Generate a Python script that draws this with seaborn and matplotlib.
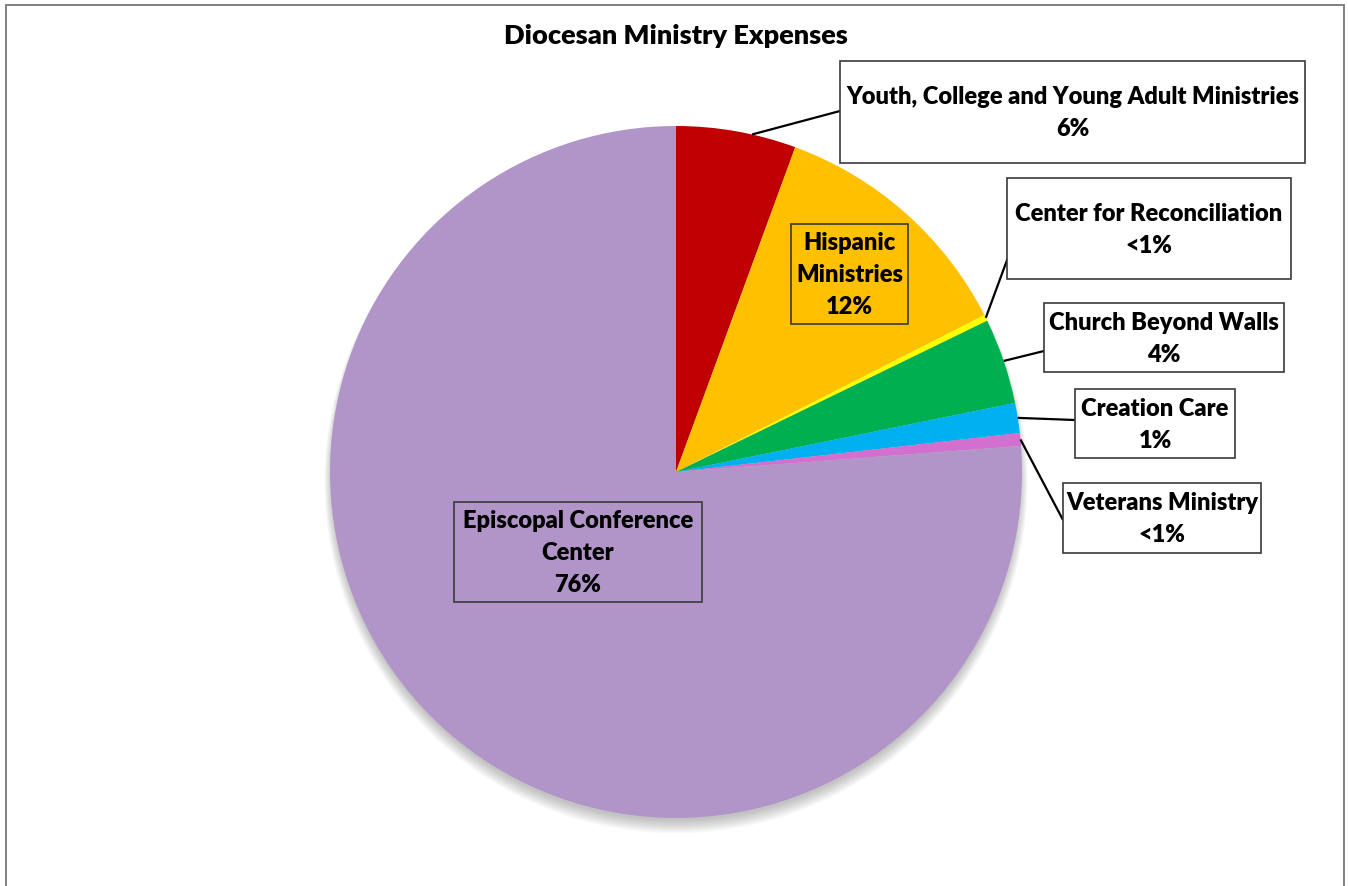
import matplotlib
matplotlib.use("Agg")
import matplotlib.pyplot as plt
import numpy as np
import seaborn as sns
from matplotlib.lines import Line2D
from matplotlib.patches import Circle, Rectangle

# slice data, clockwise from 12 o'clock
categories = [
    "Youth, College and Young Adult Ministries",
    "Hispanic\nMinistries",
    "Center for Reconciliation",
    "Church Beyond Walls",
    "Creation Care",
    "Veterans Ministry",
    "Episcopal Conference\nCenter",
]
shares = [5.6, 11.9, 0.3, 4.0, 1.4, 0.6, 76.2]
pct_labels = ["6%", "12%", "<1%", "4%", "1%", "<1%", "76%"]
slice_colors = ["#C00000", "#FFC000", "#FFFF00", "#00B050", "#00B0F0", "#D36FCE", "#B195C8"]

# label boxes in image pixels (x0, y0, x1, y1), and where the leader line meets the box
label_boxes = [
    ((840, 61, 1305, 163), (840, 111)),
    ((791, 224, 908, 324), None),
    ((1007, 178, 1291, 279), (1010, 252)),
    ((1044, 303, 1284, 372), (1044, 351)),
    ((1075, 389, 1235, 458), (1075, 420)),
    ((1063, 483, 1261, 553), (1063, 520)),
    ((454, 502, 702, 602), None),
]

W, H = 1348, 886
CX, CY, R = 676, 472, 346


def px(x, y):
    return (x - CX) / R, (CY - y) / R


sns.set_theme(style="white")
plt.rcParams["font.family"] = ["Lato", "DejaVu Sans"]

fig = plt.figure(figsize=(W / 100, H / 100), dpi=100)
ax = fig.add_axes([0, 0, 1, 1])
ax.axis("off")

# soft shadow under the pie
for k in range(8):
    ax.add_patch(Circle((0, -0.014 - 0.002 * k), 0.995 + 0.003 * k,
                        facecolor="#000000", alpha=0.03, lw=0, zorder=0))

wedges, _ = ax.pie(shares, colors=slice_colors, startangle=90, counterclock=False,
                   radius=1.0, center=(0, 0), wedgeprops=dict(linewidth=0))
for w in wedges:
    w.set_zorder(2)
ax.set_xlim(-CX / R, (W - CX) / R)
ax.set_ylim(-(H - CY) / R, CY / R)
ax.set_aspect("equal")

for i, (wedge, name, pct, (box, anchor)) in enumerate(zip(wedges, categories, pct_labels, label_boxes)):
    x0, y0, x1, y1 = box
    bx0, by0 = px(x0, y1)
    bx1, by1 = px(x1, y0)
    inside = anchor is None
    ax.add_patch(Rectangle((bx0, by0), bx1 - bx0, by1 - by0,
                           facecolor="none" if inside else "white",
                           edgecolor="#3a3a3a", lw=1.2, zorder=4))
    ax.text((bx0 + bx1) / 2, (by0 + by1) / 2 - 0.004, f"{name}\n{pct}", ha="center", va="center",
            fontsize=17, fontweight="heavy", color="black", linespacing=1.55, zorder=5)
    if anchor is not None:
        # the first leader leaves the rim a little past the slice middle
        frac = 0.37 if i == 0 else 0.5
        ang = np.deg2rad(wedge.theta1 + frac * (wedge.theta2 - wedge.theta1))
        ax.plot([np.cos(ang), px(*anchor)[0]], [np.sin(ang), px(*anchor)[1]],
                color="black", lw=1.6, zorder=3, solid_capstyle="butt")

ax.text(0, px(0, 36)[1], "Diocesan Ministry Expenses", ha="center", va="center",
        fontsize=19.5, fontweight="heavy", color="black")

# outer chart frame (bottom edge falls outside the crop)
for xs, ys in [((6, 6), (H, 5)), ((6, 1344), (5, 5)), ((1344, 1344), (5, H))]:
    fig.add_artist(Line2D([x / W for x in xs], [1 - y / H for y in ys],
                          color="#808080", lw=1.4))

fig.savefig("out.png", dpi=100)
